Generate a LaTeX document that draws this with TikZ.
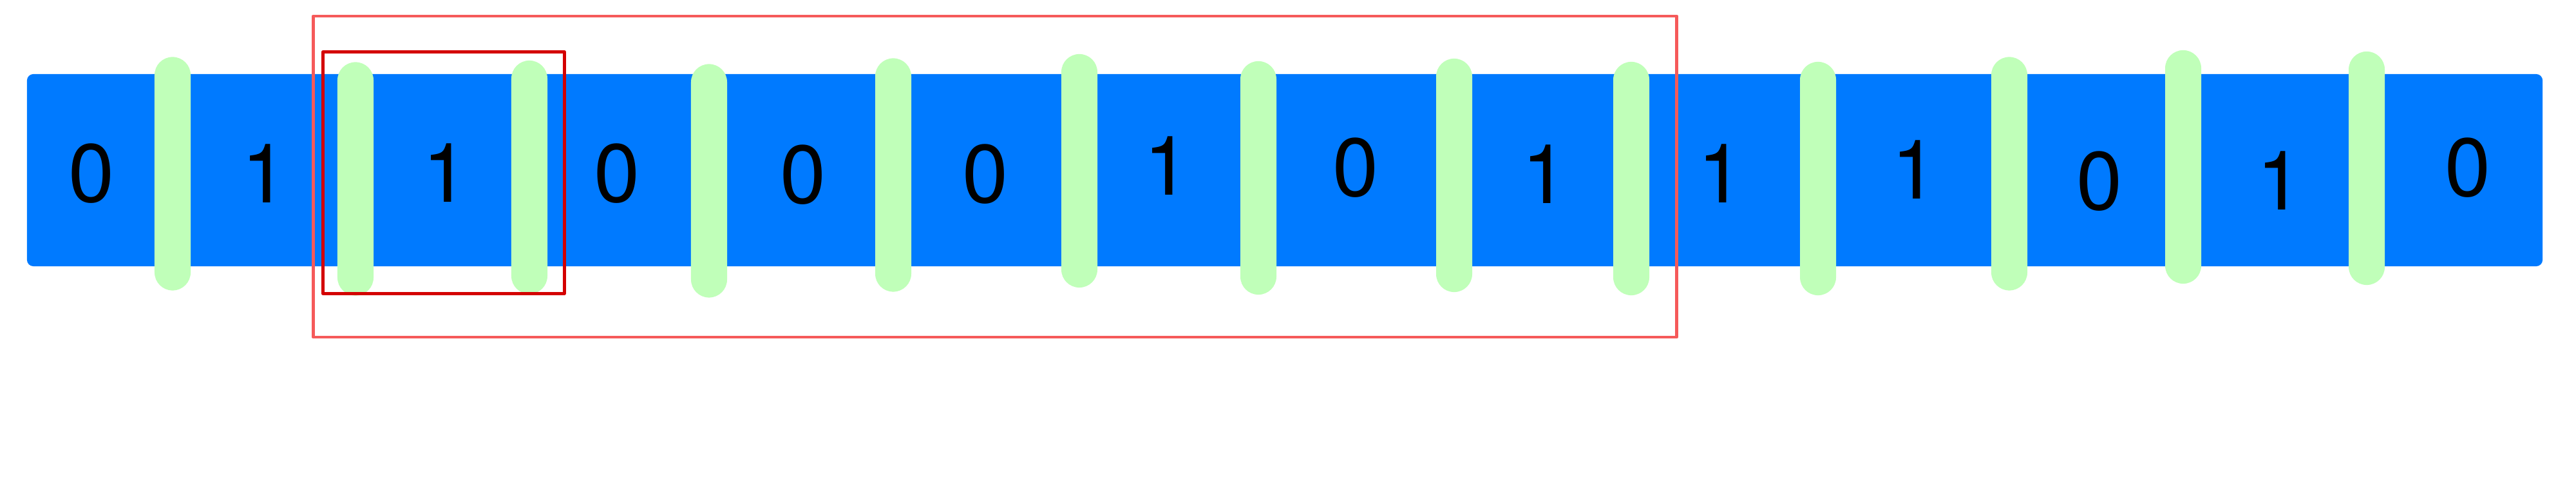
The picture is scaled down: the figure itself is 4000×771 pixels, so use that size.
\documentclass[tikz,border=0pt]{standalone}
\usepackage{fontspec}
\newfontfamily\bitfont{TeX Gyre Heros}
\usepackage{xcolor}
\definecolor{tapeblue}{HTML}{007AFF}
\definecolor{pillgreen}{HTML}{C0FFB9}
\definecolor{cellred}{HTML}{D40000}
\definecolor{windowred}{HTML}{F55A5A}

\begin{document}
\begin{tikzpicture}[
    x=0.01cm, y=-0.01cm,
    tape/.style={rectangle, fill=tapeblue, minimum width=39.04cm, minimum height=2.98cm, rounded corners=0.1cm, inner sep=0},
    bit/.style={inner sep=0, text=black, font=\bitfont\fontsize{36.4pt}{40pt}\selectfont},
    pill/.style={rectangle, fill=pillgreen, minimum width=0.56cm, minimum height=3.62cm, rounded corners=0.28cm, inner sep=0},
    window/.style={rectangle, draw=windowred, line width=0.045cm, line join=round, inner sep=0},
    cell/.style={rectangle, draw=cellred, line width=0.05cm, line join=round, inner sep=0}
]
    \useasboundingbox (0,0) rectangle (4000,771);

    \node[tape] (tape) at (1995,264) {};

    \node[bit] (b1) at (142,269) {0};
    \node[bit] (b2) at (411,269) {1};
    \node[bit] (b3) at (692,268) {1};
    \node[bit] (b4) at (958,269) {0};
    \node[bit] (b5) at (1247,271) {0};
    \node[bit] (b6) at (1530,270) {0};
    \node[bit] (b7) at (1812,257) {1};
    \node[bit] (b8) at (2105,260) {0};
    \node[bit] (b9) at (2399,270) {1};
    \node[bit] (b10) at (2672,269) {1};
    \node[bit] (b11) at (2973,263) {1};
    \node[bit] (b12) at (3260,281) {0};
    \node[bit] (b13) at (3540,280) {1};
    \node[bit] (b14) at (3832,260) {0};

    \node[pill] (p1) at (268,269.5) {};
    \node[pill] (p2) at (552,277.5) {};
    \node[pill] (p3) at (822,275) {};
    \node[pill] (p4) at (1101,280.5) {};
    \node[pill] (p5) at (1387,271.5) {};
    \node[pill] (p6) at (1676,265) {};
    \node[pill] (p7) at (1954,276) {};
    \node[pill] (p8) at (2258,272) {};
    \node[pill] (p9) at (2533,277) {};
    \node[pill] (p10) at (2823,277) {};
    \node[pill] (p11) at (3120,269.5) {};
    \node[pill] (p12) at (3390,259) {};
    \node[pill] (p13) at (3675,261) {};

    \node[window, minimum width=21.16cm, minimum height=4.98cm] (window) at (1545,274) {};
    \node[cell, minimum width=3.74cm, minimum height=3.75cm] (cell) at (689,268) {};
\end{tikzpicture}
\end{document}
